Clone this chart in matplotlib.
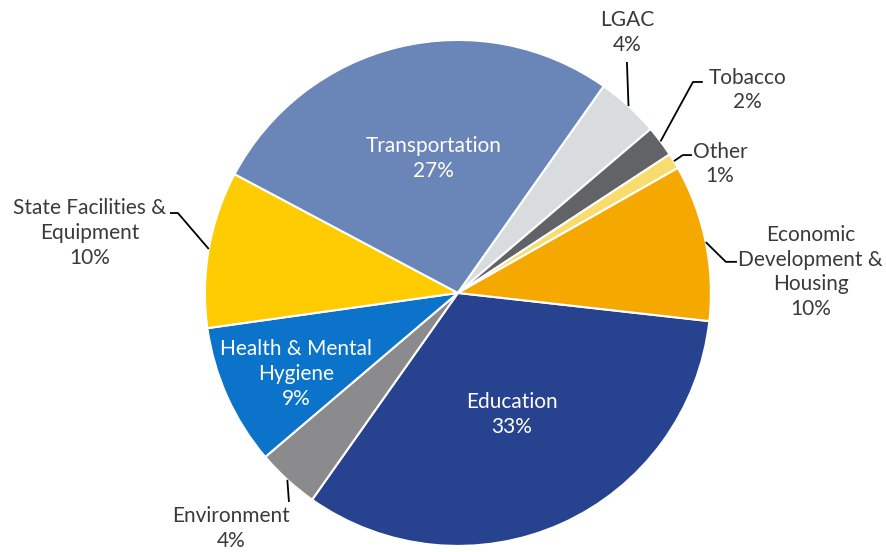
import matplotlib
matplotlib.use('Agg')
import matplotlib.pyplot as plt
import numpy as np

plt.rcParams['font.family'] = ['Lato', 'DejaVu Sans']

# slices, clockwise from the right-hand edge
labels = ['Education', 'Environment', 'Health & Mental\nHygiene', 'State Facilities &\nEquipment',
          'Transportation', 'LGAC', 'Tobacco', 'Other', 'Economic\nDevelopment &\nHousing']
shares = [33, 4, 9, 10, 27, 4, 2, 1, 10]
colors = ['#27428F', '#8B8B8D', '#0B73C9', '#FECC00', '#6A86B9',
          '#D8DCDF', '#616366', '#F8DC6E', '#F5A800']

# label placement (data units, pie radius = 1)
inside = {0: (0.213, -0.482), 2: (-0.640, -0.320), 4: (-0.095, 0.530)}
outside = {
    1: ((-0.897, -0.930), [(-0.668, -0.826)]),
    3: ((-1.455, 0.237), [(-1.107, 0.316), (-1.138, 0.316)]),
    5: ((0.668, 1.028), [(0.668, 0.913)]),
    6: ((1.146, 0.802), [(0.929, 0.834), (0.968, 0.834)]),
    7: ((1.036, 0.510), [(0.889, 0.545), (0.925, 0.545)]),
    8: ((1.395, 0.083), [(1.059, 0.123), (1.103, 0.123)]),
}

fig = plt.figure(figsize=(8.86, 5.52), dpi=100)
ax = fig.add_axes([0, 0, 1, 1])
wedges, _ = ax.pie(shares, colors=colors, startangle=-6.4, counterclock=False,
                   radius=1.0, wedgeprops=dict(edgecolor='white', linewidth=1.5))
ax.set_xlim(-1.810, 1.692)
ax.set_ylim(-1.024, 1.158)
ax.set_aspect('equal')
ax.axis('off')

for i, w in enumerate(wedges):
    txt = f'{labels[i]}\n{shares[i]}%'
    if i in inside:
        x, y = inside[i]
        ax.text(x, y, txt, ha='center', va='center', color='white', fontsize=15, linespacing=1.3)
    else:
        (x, y), pts = outside[i]
        ax.text(x, y, txt, ha='center', va='center', color='#3a3a3a', fontsize=15, linespacing=1.3)
        ang = np.deg2rad((w.theta1 + w.theta2) / 2)
        px = [np.cos(ang)] + [p[0] for p in pts]
        py = [np.sin(ang)] + [p[1] for p in pts]
        ax.plot(px, py, color='black', lw=1.3, solid_capstyle='butt')

fig.savefig('out.png', dpi=100)
